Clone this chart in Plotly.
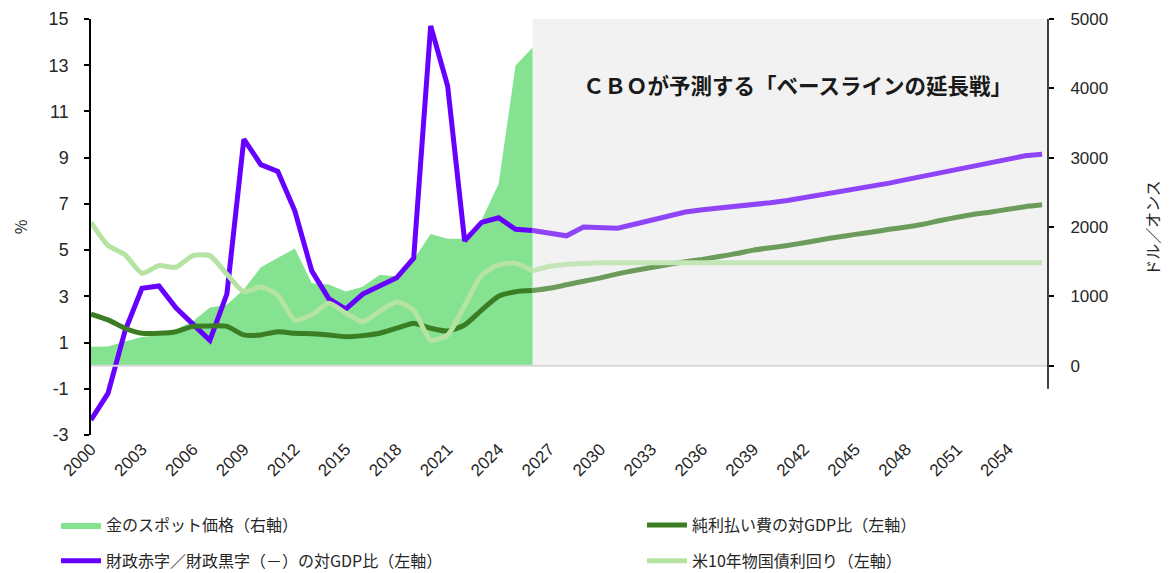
import plotly.graph_objects as go

FONT = "Liberation Sans, Noto Sans CJK JP, sans-serif"
JP_FONT = "Noto Sans CJK JP, sans-serif"

GOLD_FILL = "#84E291"
DEFICIT = "#6600FF"
DEFICIT_PROJ = "#8F45F7"
NET_INT = "#3A7D22"
NET_INT_PROJ = "#6C9C5C"
YIELD10 = "#B5E3A2"
YIELD10_PROJ = "#C4E5B7"
SHADE = "#F2F2F2"

years = list(range(2000, 2057))
PROJ_START = 2026
tick_years = list(range(2000, 2055, 3))
pct_ticks = [-3, -1, 1, 3, 5, 7, 9, 11, 13, 15]
usd_ticks = [0, 1000, 2000, 3000, 4000, 5000]

# gold spot price, USD/oz (right axis), 2000-2026
gold = [274, 276, 350, 415, 440, 520, 640, 840, 880, 1100,
        1420, 1560, 1690, 1190, 1170, 1070, 1140, 1310, 1285, 1530,
        1900, 1830, 1830, 2100, 2620, 4330, 4590]

# federal deficit (surplus negative) as % of GDP, 2000-2056
deficit = [-2.35, -1.2, 1.5, 3.35, 3.45, 2.5, 1.8, 1.1, 3.1, 9.8,
           8.7, 8.4, 6.7, 4.1, 2.9, 2.45, 3.1, 3.45, 3.8, 4.65,
           14.7, 12.1, 5.4, 6.2, 6.4, 5.9, 5.85, 5.72, 5.62, 6.0,
           5.95, 5.95, 6.12, 6.3, 6.5, 6.65, 6.75, 6.82, 6.88, 6.97,
           7.05, 7.15, 7.27, 7.37, 7.5, 7.62, 7.75, 7.9, 8.05, 8.2,
           8.35, 8.5, 8.68, 8.83, 8.97, 9.08, 9.15]

# net interest outlays as % of GDP, 2000-2056
net_interest = [2.23, 1.98, 1.62, 1.4, 1.4, 1.47, 1.7, 1.72, 1.7, 1.33,
                1.33, 1.47, 1.4, 1.38, 1.33, 1.25, 1.3, 1.4, 1.62, 1.84,
                1.62, 1.5, 1.76, 2.4, 3.0, 3.2, 3.25, 3.35, 3.5, 3.65,
                3.8, 3.97, 4.12, 4.25, 4.38, 4.5, 4.6, 4.72, 4.85, 5.0,
                5.1, 5.2, 5.32, 5.45, 5.57, 5.68, 5.78, 5.9, 6.0, 6.12,
                6.28, 6.42, 6.55, 6.65, 6.77, 6.88, 6.96]

# 10-year treasury yield, %, 2000-2056
yield10 = [6.2, 5.2, 4.8, 4.0, 4.33, 4.26, 4.76, 4.76, 3.96, 3.2,
           3.4, 3.05, 1.97, 2.2, 2.7, 2.27, 1.9, 2.36, 2.76, 2.4,
           1.1, 1.33, 2.6, 3.9, 4.36, 4.43, 4.1, 4.3, 4.38, 4.42,
           4.45, 4.45, 4.45, 4.45, 4.45, 4.45, 4.45, 4.45, 4.45, 4.45,
           4.45, 4.45, 4.45, 4.45, 4.45, 4.45, 4.45, 4.45, 4.45, 4.45,
           4.45, 4.45, 4.45, 4.45, 4.45, 4.45, 4.45]

split = years.index(PROJ_START)
x_end = years[-1] + 0.35

# page body has an 8px margin, so the figure is 8px smaller each way
W, H = 1164, 565


def hist_proj(name, values, color, proj_color, legend, width=5, shape="linear"):
    # actuals up to PROJ_START, CBO projection after (lighter colour)
    hist = go.Scatter(
        x=years[:split + 1], y=values[:split + 1], name=name, mode="lines",
        line=dict(color=color, width=width, shape=shape, smoothing=0.6),
        yaxis="y2", legend=legend, legendgroup=name,
    )
    proj = go.Scatter(
        x=years[split:], y=values[split:], name=name, mode="lines",
        line=dict(color=proj_color, width=width, shape=shape, smoothing=0.6),
        yaxis="y2", legend=legend, legendgroup=name, showlegend=False,
    )
    return [hist, proj]


fig = go.Figure()

# gold sits on the base axis (drawn to the right) so the % lines overlay it
fig.add_trace(go.Scatter(
    x=years[:len(gold)], y=gold, name="金のスポット価格（右軸）",
    mode="lines", fill="tozeroy", fillcolor=GOLD_FILL,
    line=dict(color=GOLD_FILL, width=0),
    yaxis="y", legend="legend", legendgroup="gold",
))
for t in hist_proj("財政赤字／財政黒字（－）の対GDP比（左軸）", deficit,
                   DEFICIT, DEFICIT_PROJ, "legend"):
    fig.add_trace(t)
for t in hist_proj("純利払い費の対GDP比（左軸）", net_interest,
                   NET_INT, NET_INT_PROJ, "legend2", shape="spline"):
    fig.add_trace(t)
for t in hist_proj("米10年物国債利回り（左軸）", yield10,
                   YIELD10, YIELD10_PROJ, "legend2", shape="spline"):
    fig.add_trace(t)

# projection shading
fig.add_shape(type="rect", xref="x", yref="y2", x0=PROJ_START, x1=x_end,
              y0=0, y1=15, fillcolor=SHADE, line_width=0, layer="below")
# zero line
fig.add_shape(type="line", xref="x", yref="y2", x0=years[0], x1=x_end,
              y0=0, y1=0, line=dict(color="#D9D9D9", width=2), layer="above")
# right axis line (stops a little below zero, as in the original)
fig.add_shape(type="line", xref="paper", yref="y2", x0=1, x1=1,
              y0=-1, y1=15, line=dict(color="black", width=1.5))

fig.add_annotation(
    x=2041.6, y=12.15, xref="x", yref="y2", showarrow=False,
    text="<b>ＣＢＯが予測する「ベースラインの延長戦」</b>",
    font=dict(family=JP_FONT, size=21.5, color="#1a1a1a"),
)
# axis titles
fig.add_annotation(
    x=-0.074, y=0.5, xref="paper", yref="paper", showarrow=False,
    xanchor="center", yanchor="middle",
    text="%", textangle=-90, font=dict(family=JP_FONT, size=16, color="#262626"),
)
fig.add_annotation(
    x=1.1087, y=0.498, xref="paper", yref="paper", showarrow=False,
    xanchor="center", yanchor="middle",
    text="ドル／オンス", textangle=-90,
    font=dict(family=JP_FONT, size=16, color="#262626"),
)

legend_style = dict(
    orientation="v", yanchor="top", xanchor="left", xref="container",
    yref="container", font=dict(family=JP_FONT, size=16, color="#262626"),
    bgcolor="rgba(0,0,0,0)", tracegroupgap=12, itemwidth=40,
)

fig.update_layout(
    width=W, height=H,
    margin=dict(l=83, r=124, t=11, b=138, autoexpand=False),
    paper_bgcolor="white", plot_bgcolor="white",
    font=dict(family=FONT, size=17, color="#262626"),
    xaxis=dict(
        range=[years[0], x_end], tickvals=tick_years,
        ticktext=[str(y) for y in tick_years], tickangle=-45,
        showgrid=False, zeroline=False, showline=False, ticks="",
        tickfont=dict(size=17), automargin=False,
    ),
    yaxis=dict(
        range=[-1000, 5000], tickvals=usd_ticks, side="right",
        showgrid=False, zeroline=False, showline=False,
        ticks="outside", ticklen=5, tickwidth=1.5, tickcolor="black",
        tickfont=dict(size=17), ticklabelstandoff=13, automargin=False,
    ),
    yaxis2=dict(
        range=[-3, 15], tickvals=pct_ticks,
        ticktext=[str(v) for v in pct_ticks],
        overlaying="y", side="left", showgrid=False, zeroline=False,
        showline=True, linecolor="black", linewidth=1.5,
        ticks="outside", ticklen=5, tickwidth=1.5, tickcolor="black",
        tickfont=dict(size=18), ticklabelstandoff=12, automargin=False,
    ),
    legend=dict(x=48 / W, y=1 - 500 / H, **legend_style),
    legend2=dict(x=634 / W, y=1 - 500 / H, **legend_style),
)

fig.write_html("out.html")
